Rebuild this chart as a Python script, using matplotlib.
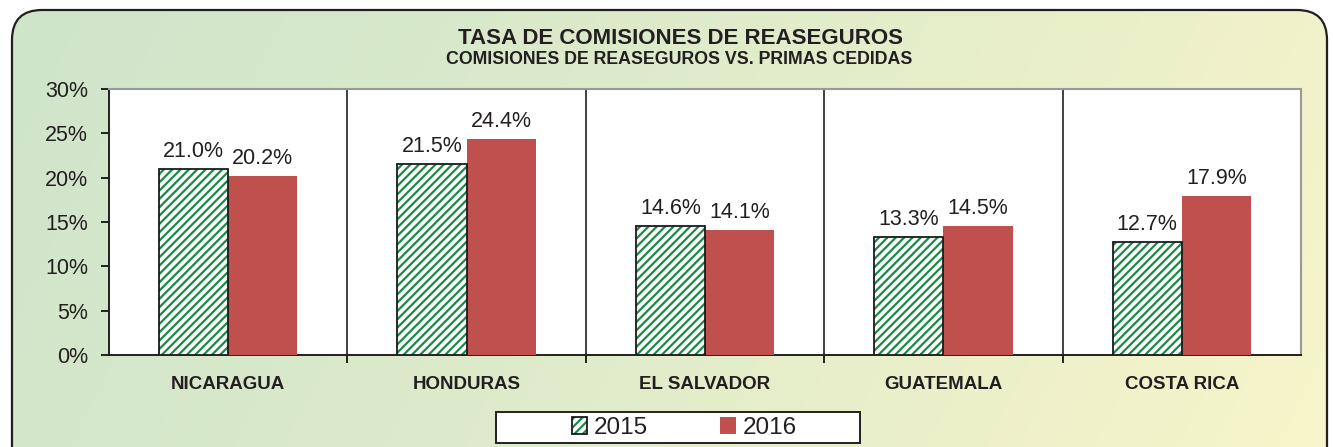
import numpy as np
import matplotlib
matplotlib.use("Agg")
import matplotlib.pyplot as plt
from matplotlib.patches import FancyBboxPatch, Rectangle, Patch
from matplotlib.legend_handler import HandlerTuple
from matplotlib.ticker import FuncFormatter

paises = ["NICARAGUA", "HONDURAS", "EL SALVADOR", "GUATEMALA", "COSTA RICA"]
tasa_2015 = [21.0, 21.5, 14.6, 13.3, 12.7]
tasa_2016 = [20.2, 24.4, 14.1, 14.5, 17.9]
y_ticks = [0, 5, 10, 15, 20, 25, 30]

plt.rcParams["font.family"] = ["Liberation Sans", "DejaVu Sans"]
plt.rcParams["hatch.linewidth"] = 1.6

verde = "#1b8a45"
rojo = "#c0504d"
texto = "#231f20"

W, H = 1333, 447
fig = plt.figure(figsize=(W / 100, H / 100), dpi=100)
fig.patch.set_facecolor("white")

# fondo redondeado con degradado verde -> amarillo
bg = fig.add_axes([0, 0, 1, 1], zorder=0)
bg.set_xlim(0, W)
bg.set_ylim(H, 0)
bg.axis("off")
gx, gy = np.meshgrid(np.linspace(0, 1, 300), np.linspace(0, 1, 100))
t = np.clip(0.85 * gx + 0.15 * gy, 0, 1) ** 1.2
c0 = np.array([207, 229, 203]) / 255
c1 = np.array([248, 245, 201]) / 255
grad = c0[None, None, :] * (1 - t[..., None]) + c1[None, None, :] * t[..., None]
caja = FancyBboxPatch((12, 10), 1315, 470, boxstyle="round,pad=0,rounding_size=30",
                      facecolor="none", edgecolor="#231f20", linewidth=1.6)
bg.add_patch(caja)
im = bg.imshow(grad, extent=[12, 1327, 480, 10], aspect="auto", zorder=0)
im.set_clip_path(caja)

ax = fig.add_axes([109 / W, 1 - 355 / H, (1301 - 109) / W, (355 - 89) / H], zorder=2)
ax.set_facecolor("white")

x = np.arange(len(paises))
w = 0.29
b1 = ax.bar(x - w / 2, tasa_2015, w, facecolor="white", edgecolor=verde,
            hatch="////", linewidth=0, zorder=3)
ax.bar(x - w / 2, tasa_2015, w, fill=False, edgecolor="#1a1a1a", linewidth=1.3, zorder=4)
b2 = ax.bar(x + w / 2, tasa_2016, w, color=rojo, linewidth=0, zorder=3)

ax.bar_label(b1, labels=[f"{v:.1f}%" for v in tasa_2015], padding=5, fontsize=15.5, color=texto)
ax.bar_label(b2, labels=[f"{v:.1f}%" for v in tasa_2016], padding=5, fontsize=15.5, color=texto)

ax.set_xlim(-0.5, len(paises) - 0.5)
ax.set_ylim(0, 30)
ax.set_yticks(y_ticks)
ax.yaxis.set_major_formatter(FuncFormatter(lambda v, p: f"{v:.0f}%"))
ax.tick_params(axis="y", direction="out", length=6, width=1.2, labelsize=15.5,
               labelcolor=texto, pad=9)

ax.set_xticks(x)
ax.set_xticklabels(paises, fontweight="bold", fontsize=13.5, color=texto)
ax.tick_params(axis="x", length=0, pad=15)
limites = np.arange(0.5, len(paises) - 0.5, 1)
ax.set_xticks(limites, minor=True)
ax.tick_params(axis="x", which="minor", direction="out", length=6, width=1.2)
for b in limites:
    ax.axvline(b, color="#231f20", linewidth=1.2, zorder=2)

for s in ["top", "right"]:
    ax.spines[s].set_color("#999999")
    ax.spines[s].set_linewidth(1.5)
for s in ["left", "bottom"]:
    ax.spines[s].set_color("#231f20")
    ax.spines[s].set_linewidth(1.4)

fig.text(680 / W, 1 - 38 / H, "TASA DE COMISIONES DE REASEGUROS", ha="center", va="center",
         fontsize=16, fontweight="bold", color=texto)
fig.text(679 / W, 1 - 60 / H, "COMISIONES DE REASEGUROS VS. PRIMAS CEDIDAS", ha="center",
         va="center", fontsize=12.8, fontweight="bold", color=texto)

# leyenda
fig.patches.append(Rectangle((496 / W, 1 - 443 / H), 364 / W, 31 / H, transform=fig.transFigure,
                             facecolor="white", edgecolor="#231f20", linewidth=1.4, zorder=3))
h1 = Patch(facecolor="white", edgecolor=verde, hatch="////", linewidth=0)
h1b = Patch(fill=False, edgecolor="#1a1a1a", linewidth=1.3)
h2 = Patch(facecolor=rojo, edgecolor="none")
leg = fig.legend([(h1, h1b), h2], ["2015", "2016"], handler_map={tuple: HandlerTuple(ndivide=1)},
                 loc="center", bbox_to_anchor=(684 / W, 1 - 428 / H), ncol=2, frameon=False,
                 fontsize=17.5, handlelength=0.65, handleheight=0.7, handletextpad=0.25,
                 columnspacing=3.0, labelcolor=texto)
leg.set_zorder(4)

fig.savefig("out.png", dpi=100)
